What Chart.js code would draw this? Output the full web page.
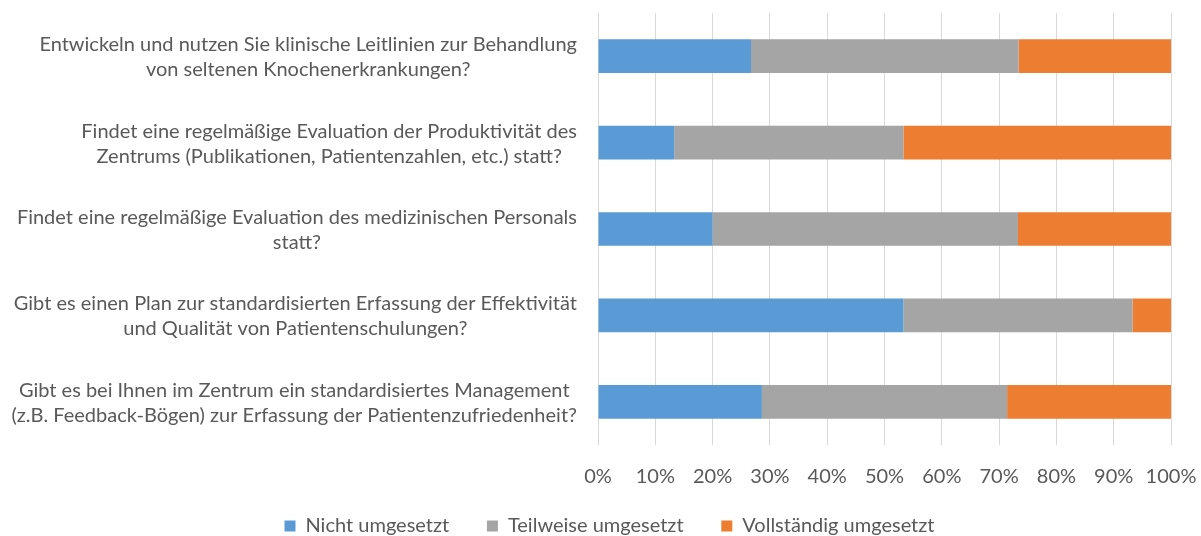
<!DOCTYPE html>
<html>
<head>
<meta charset="utf-8">
<script src="https://cdn.jsdelivr.net/npm/chart.js@4"></script>
<style>
    body { margin: 0; background: #fff; }
    #wrap { width: 1201px; height: 536px; }
</style>
</head>
<body>
<div id="wrap"><canvas id="umsetzung-chart" width="1201" height="536"></canvas></div>
<script>
    // question labels, one array per line
    const categories = [
        ['Entwickeln und nutzen Sie klinische Leitlinien zur Behandlung', 'von seltenen Knochenerkrankungen?'],
        ['Findet eine regelmäßige Evaluation der Produktivität des', 'Zentrums (Publikationen, Patientenzahlen, etc.) statt?'],
        ['Findet eine regelmäßige Evaluation des medizinischen Personals', 'statt?'],
        ['Gibt es einen Plan zur standardisierten Erfassung der Effektivität', 'und Qualität von Patientenschulungen?'],
        ['Gibt es bei Ihnen im Zentrum ein standardisiertes Management', '(z.B. Feedback-Bögen) zur Erfassung der Patientenzufriedenheit?']
    ];

    // percentages per answer
    const nichtUmgesetzt = [26.7, 13.3, 20.0, 53.3, 28.6];
    const teilweiseUmgesetzt = [46.7, 40.0, 53.3, 40.0, 42.8];
    const vollstaendigUmgesetzt = [26.6, 46.7, 26.7, 6.7, 28.6];

    const seriesNames = ['Nicht umgesetzt', 'Teilweise umgesetzt', 'Vollständig umgesetzt'];
    const xTickValues = [0, 10, 20, 30, 40, 50, 60, 70, 80, 90, 100];

    const fontFamily = 'Lato, "Open Sans", sans-serif';
    const textColor = '#595959';

    // draws the multi-line category labels, each block centered on its longest line
    const questionLabels = {
        id: 'questionLabels',
        afterLayout: (chart) => {
            // legend sits centred on the whole page, not only left of the padding
            chart.legend.left += 24;
            chart.legend.right += 24;
        },
        afterDraw: (chart) => {
            const ctx = chart.ctx;
            const yScale = chart.scales.y;
            const rightEdge = chart.chartArea.left - 21;
            const lineHeight = 25;
            ctx.save();
            ctx.font = '20px ' + fontFamily;
            ctx.fillStyle = textColor;
            ctx.textAlign = 'center';
            ctx.textBaseline = 'middle';
            categories.forEach((lines, i) => {
                const y = yScale.getPixelForValue(i) + 1;
                const maxW = Math.max(...lines.map(l => ctx.measureText(l).width));
                const cx = rightEdge - maxW / 2;
                lines.forEach((line, j) => {
                    ctx.fillText(line, cx, y + (j - (lines.length - 1) / 2) * lineHeight);
                });
            });
            ctx.restore();
        }
    };

    new Chart(document.getElementById('umsetzung-chart'), {
        type: 'bar',
        data: {
            labels: categories,
            datasets: [{
                label: seriesNames[0],
                data: nichtUmgesetzt,
                backgroundColor: '#5B9BD5'
            }, {
                label: seriesNames[1],
                data: teilweiseUmgesetzt,
                backgroundColor: '#A5A5A5'
            }, {
                label: seriesNames[2],
                data: vollstaendigUmgesetzt,
                backgroundColor: '#ED7D31'
            }]
        },
        options: {
            indexAxis: 'y',
            responsive: false,
            animation: false,
            barPercentage: 0.39,
            categoryPercentage: 1,
            layout: {
                padding: { top: 13, right: 30, left: 0, bottom: -10 }
            },
            plugins: {
                tooltip: { enabled: false },
                legend: {
                    position: 'bottom',
                    labels: {
                        boxWidth: 11,
                        boxHeight: 11,
                        padding: 7,
                        color: textColor,
                        font: { family: fontFamily, size: 20 },
                        // a little extra room between the legend entries
                        generateLabels: (chart) => {
                            const items = Chart.defaults.plugins.legend.labels.generateLabels(chart);
                            items.forEach((item, i) => {
                                if (i < items.length - 1) item.text += '      ';
                            });
                            return items;
                        }
                    }
                }
            },
            scales: {
                x: {
                    stacked: true,
                    min: 0,
                    max: 100,
                    afterBuildTicks: (scale) => {
                        scale.ticks = xTickValues.map(v => ({ value: v }));
                    },
                    afterFit: (scale) => {
                        scale.paddingLeft = 0;
                        scale.paddingRight = 0;
                    },
                    ticks: {
                        callback: (v) => v + '%',
                        color: textColor,
                        padding: 20,
                        maxRotation: 0,
                        font: { family: fontFamily, size: 20 }
                    },
                    grid: {
                        color: '#D9D9D9',
                        drawTicks: false
                    },
                    border: { display: false }
                },
                y: {
                    stacked: true,
                    grid: { display: false },
                    border: { display: false },
                    ticks: { display: false },
                    afterFit: (scale) => {
                        scale.width = 598;
                    }
                }
            }
        },
        plugins: [questionLabels]
    });
</script>
</body>
</html>
